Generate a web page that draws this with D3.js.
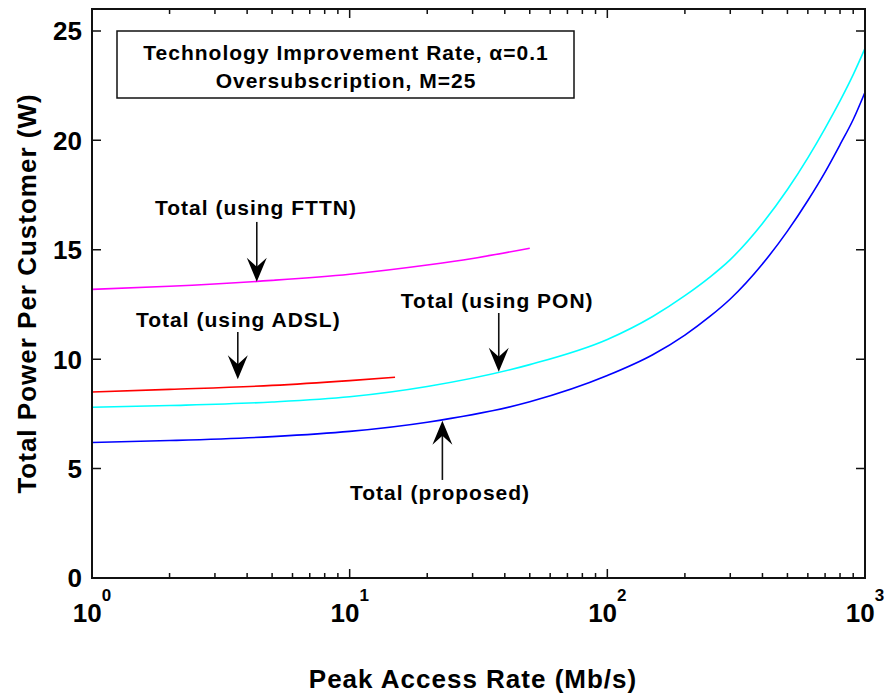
<!DOCTYPE html>
<html>
<head>
<meta charset="utf-8">
<script src="https://cdn.jsdelivr.net/npm/d3@7"></script>
<style>
  html, body { margin: 0; padding: 0; background: #fff; }
  svg { display: block; }
  text { font-family: "Liberation Sans", Arial, sans-serif; font-weight: bold; fill: #000; }
</style>
</head>
<body>
<svg id="chart" width="888" height="700"></svg>
<script>
// Peak access rate (Mb/s) sample points per series
const rateProposed = [1, 2, 5, 10, 20, 50, 100, 150, 200, 250, 300, 400, 500, 600, 700, 800, 900, 1000];
const powerProposed = [6.19, 6.28, 6.46, 6.70, 7.12, 8.05, 9.25, 10.2, 11.1, 11.95, 12.75, 14.35, 15.85, 17.25, 18.55, 19.8, 20.95, 22.2];

const ratePON = [1, 2, 5, 10, 20, 50, 100, 150, 200, 250, 300, 400, 500, 600, 700, 800, 900, 1000];
const powerPON = [7.80, 7.88, 8.04, 8.28, 8.75, 9.75, 10.9, 11.95, 12.9, 13.75, 14.55, 16.2, 17.75, 19.2, 20.55, 21.8, 23.0, 24.2];

const rateADSL = [1, 2, 5, 10, 15];
const powerADSL = [8.50, 8.62, 8.80, 9.02, 9.17];

const rateFTTN = [1, 2, 5, 10, 20, 30, 50];
const powerFTTN = [13.19, 13.33, 13.60, 13.88, 14.30, 14.60, 15.07];

const yTicks = [0, 5, 10, 15, 20, 25];
const xDecades = [1, 10, 100, 1000];
const xExponents = ["0", "1", "2", "3"];

const seriesNames = ["Total (proposed)", "Total (using PON)", "Total (using ADSL)", "Total (using FTTN)"];
const seriesColors = ["#0000ff", "#00ffff", "#ff0000", "#ff00ff"];

const infoLines = ["Technology Improvement Rate, \u03b1=0.1", "Oversubscription, M=25"];

// Annotation labels: text anchor and arrow (tail -> tip) in data units
const annotations = [
  { text: "Total (using FTTN)", tx: 1.756, ty: 16.59, ax: 4.36, from: 16.27, to: 13.54 },
  { text: "Total (using ADSL)", tx: 1.482, ty: 11.47, ax: 3.68, from: 11.24, to: 9.08 },
  { text: "Total (using PON)", tx: 15.8, ty: 12.34, ax: 37.9, from: 12.11, to: 9.43 },
  { text: "Total (proposed)", tx: 10.03, ty: 3.56, ax: 22.9, from: 4.48, to: 7.19 }
];

const series = [
  { name: seriesNames[0], color: seriesColors[0], x: rateProposed, y: powerProposed },
  { name: seriesNames[1], color: seriesColors[1], x: ratePON, y: powerPON },
  { name: seriesNames[2], color: seriesColors[2], x: rateADSL, y: powerADSL },
  { name: seriesNames[3], color: seriesColors[3], x: rateFTTN, y: powerFTTN }
];

const L = 92, R = 865, T = 9, B = 578;
const svg = d3.select("#chart");

const x = d3.scaleLog().domain([1, 1000]).range([L, R]);
const y = d3.scaleLinear().domain([0, 26]).range([B, T]);

// Curves
const line = d3.line()
  .x(d => x(d[0]))
  .y(d => y(d[1]))
  .curve(d3.curveMonotoneX);

svg.append("g")
  .selectAll("path")
  .data(series)
  .join("path")
  .attr("d", s => line(s.x.map((v, i) => [v, s.y[i]])))
  .attr("fill", "none")
  .attr("stroke", s => s.color)
  .attr("stroke-width", 1.6);

// Tick marks on all four sides, pointing inward
const minorX = [];
for (let d = 1; d < 1000; d *= 10) for (let k = 2; k <= 9; k++) minorX.push(d * k);

const ticks = svg.append("g").attr("stroke", "#111").attr("stroke-width", 1.5);
const majorLen = 9, minorLen = 5;

ticks.selectAll(".xmaj").data(xDecades).join("path")
  .attr("d", v => `M${x(v)},${B}v${-majorLen}M${x(v)},${T}v${majorLen}`);
ticks.selectAll(".xmin").data(minorX).join("path")
  .attr("d", v => `M${x(v)},${B}v${-minorLen}M${x(v)},${T}v${minorLen}`);
ticks.selectAll(".ymaj").data(yTicks).join("path")
  .attr("d", v => `M${L},${y(v)}h${majorLen}M${R},${y(v)}h${-majorLen}`);

// Axes box
svg.append("rect")
  .attr("x", L).attr("y", T)
  .attr("width", R - L).attr("height", B - T)
  .attr("fill", "none")
  .attr("stroke", "#111")
  .attr("stroke-width", 2);

// Y tick labels
svg.append("g").selectAll("text").data(yTicks).join("text")
  .attr("x", L - 10)
  .attr("y", v => y(v))
  .attr("dy", "0.36em")
  .attr("text-anchor", "end")
  .attr("font-size", 26)
  .text(v => v);

// X tick labels as powers of ten
const xl = svg.append("g").selectAll("text").data(xDecades).join("text")
  .attr("x", v => x(v))
  .attr("y", 622)
  .attr("text-anchor", "middle")
  .attr("font-size", 26);
xl.append("tspan").text("10");
xl.append("tspan")
  .attr("font-size", 17)
  .attr("dy", -21)
  .text((v, i) => xExponents[i]);

// Axis titles
svg.append("text")
  .attr("x", 473).attr("y", 688)
  .attr("text-anchor", "middle")
  .attr("font-size", 26)
  .attr("letter-spacing", 1)
  .text("Peak Access Rate (Mb/s)");

svg.append("text")
  .attr("transform", `translate(36,${(T + B) / 2}) rotate(-90)`)
  .attr("text-anchor", "middle")
  .attr("font-size", 26)
  .attr("letter-spacing", 1)
  .text("Total Power Per Customer (W)");

// Parameter box
svg.append("rect")
  .attr("x", 117).attr("y", 31)
  .attr("width", 457).attr("height", 67)
  .attr("fill", "#fff")
  .attr("stroke", "#111")
  .attr("stroke-width", 1.5);

svg.append("g").selectAll("text").data(infoLines).join("text")
  .attr("x", 346)
  .attr("y", (d, i) => 60 + i * 28)
  .attr("text-anchor", "middle")
  .attr("font-size", 21)
  .attr("letter-spacing", 1)
  .text(d => d);

// Annotations with arrows
const ann = svg.append("g");
ann.selectAll("text").data(annotations).join("text")
  .attr("x", d => x(d.tx))
  .attr("y", d => y(d.ty))
  .attr("font-size", 21)
  .attr("letter-spacing", 1)
  .text(d => d.text);

ann.selectAll("line").data(annotations).join("line")
  .attr("x1", d => x(d.ax)).attr("x2", d => x(d.ax))
  .attr("y1", d => y(d.from))
  .attr("y2", d => y(d.to) + (d.to > d.from ? 14 : -14))
  .attr("stroke", "#111")
  .attr("stroke-width", 1.6);

ann.selectAll("path").data(annotations).join("path")
  .attr("d", "M0,0L-10,-24L0,-15L10,-24Z")
  .attr("fill", "#000")
  .attr("transform", d => {
    const up = d.to > d.from;
    return `translate(${x(d.ax)},${y(d.to)})` + (up ? " rotate(180)" : "");
  });
</script>
</body>
</html>
